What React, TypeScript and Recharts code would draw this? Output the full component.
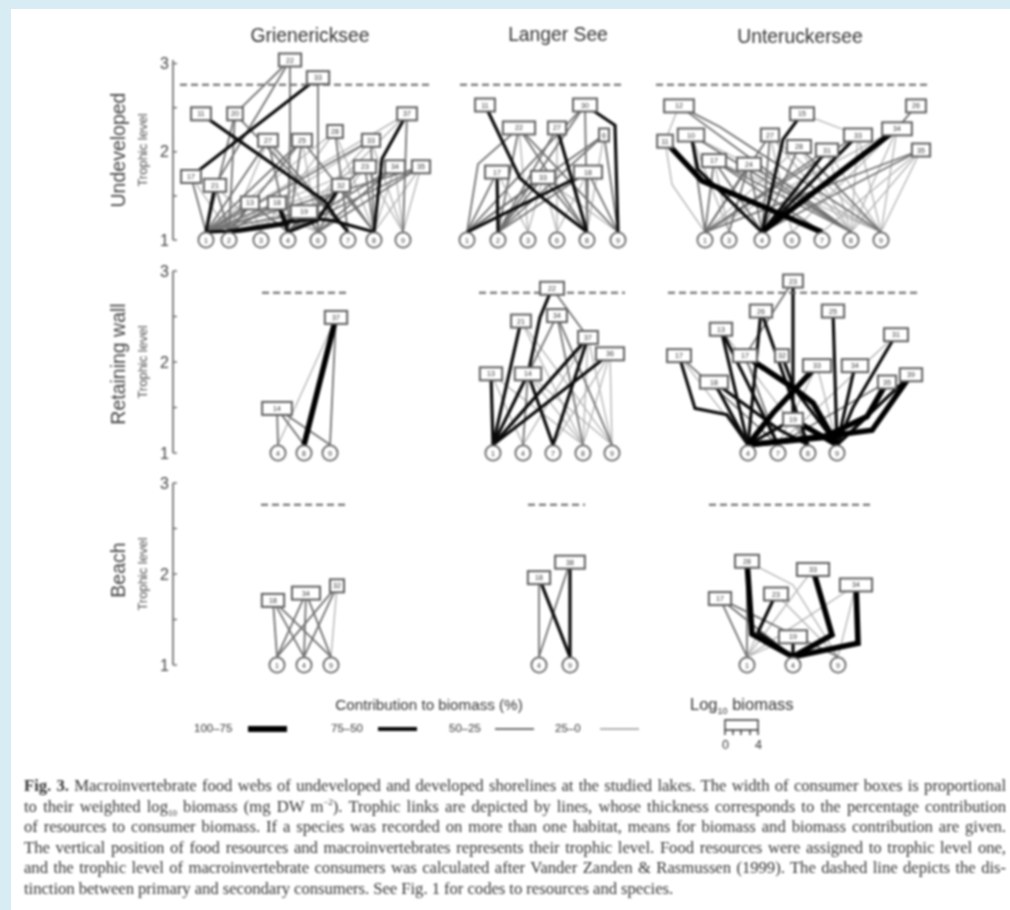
// App.tsx - food web panels, one scatter chart per shoreline row
import React from 'react';
import { Label, Scatter, ScatterChart, XAxis, YAxis } from 'recharts';

type Link = number[]; // from consumer, to resource (or ~consumer), class, then via x, via level pairs

// link classes: 0 = 25-0, 1 = 50-25, 2 = 75-50, 3 = 100-75
const classColors = ['#b0b0b0', '#707070', '#0a0a0a', '#000000'];
const classWidths = [1.3, 1.8, 3.2, 5.6];

const dashLevel = 2.76;
const footLevel = 1.09;
const trophicTicks = [1, 1.5, 2, 2.5, 3];
const biomassPx = 8.25;

// Grienericksee, undeveloped
const guCodes = ['22', '33', '11', '20', '27', '25', '28', '33', '37', '17', '21', '23', '34', '35', '32', '13', '18', '19'];
const guX = [290, 318, 201, 235, 268, 302, 335, 371, 407, 191, 215, 365, 395, 421, 341, 250, 277, 304];
const guLevel = [3.04, 2.84, 2.43, 2.43, 2.13, 2.13, 2.23, 2.13, 2.43, 1.72, 1.62, 1.83, 1.83, 1.83, 1.62, 1.42, 1.42, 1.32];
const guBiomass = [2.7, 2.7, 2.4, 1.9, 2.4, 2.4, 1.9, 2.2, 2.4, 2.4, 2.7, 2.7, 2.4, 2.2, 2.2, 2.2, 2.2, 3.2];
const guResCodes = ['1', '2', '3', '4', '6', '7', '8', '9'];
const guResX = [206, 229, 261, 288, 318, 348, 374, 403];
const guDash = [180, 430];
const guLinks: Link[] = [
  [0, ~3, 1], [0, ~10, 1], [0, 3, 1, 290, 2.2], [1, 4, 1, 318, 2.05], [1, ~9, 2], [2, 5, 2, 325, 1.44, 335, 1.27],
  [3, 0, 1], [3, 1, 1], [3, 5, 1], [4, 0, 1], [4, 1, 0], [4, 3, 1], [4, 4, 0], [4, 5, 1],
  [5, 0, 1], [5, 1, 1], [5, 3, 1], [5, 4, 0], [5, 6, 1], [6, 0, 0], [6, 2, 0], [6, 5, 1], [6, 6, 0],
  [7, 0, 1], [7, 1, 0], [7, 3, 0], [7, 6, 1], [7, 7, 0], [8, 6, 2, 382, 1.92], [8, 7, 1], [8, 0, 0], [8, 3, 0],
  [9, 0, 1], [9, 1, 0], [10, 0, 2], [10, 1, 1], [10, 2, 0], [11, 0, 0], [11, 3, 1], [11, 4, 0], [11, 6, 1], [11, 7, 0],
  [12, 3, 1], [12, 4, 1], [12, 6, 0], [12, 7, 0], [13, 3, 1], [13, 4, 1], [13, 7, 0], [13, 6, 0], [13, 0, 1],
  [14, 3, 1], [14, 4, 1], [14, 0, 0], [14, 6, 1], [15, 0, 1], [15, 1, 1], [15, 3, 1], [15, 2, 0], [15, 4, 0],
  [16, 0, 1], [16, 1, 1], [16, 3, 2], [16, 4, 0], [17, 0, 1], [17, 3, 1], [17, 4, 1], [17, 1, 0],
  [17, 1, 2, 317, 1.24, 287, 1.2], [17, 6, 2, 317, 1.24, 333, 1.22], [17, 0, 2, 287, 1.2, 228, 1.1],
  [16, 1, 2, 287, 1.18, 240, 1.1], [14, 3, 2, 317, 1.22],
];

// Langer See, undeveloped
const luCodes = ['11', '30', '22', '27', '6', '17', '33', '18'];
const luX = [485, 585, 519, 557, 604, 497, 543, 588];
const luLevel = [2.53, 2.53, 2.27, 2.27, 2.19, 1.77, 1.71, 1.77];
const luBiomass = [2.4, 2.9, 3.9, 2.2, 1.2, 2.9, 2.9, 3.4];
const luResCodes = ['1', '2', '3', '6', '8', '9'];
const luResX = [467, 498, 528, 557, 587, 618];
const luDash = [460, 624];
const luLinks: Link[] = [
  [0, 4, 2, 520, 1.7, 540, 1.5], [1, 5, 2, 615, 2.3], [1, 4, 1], [1, 0, 1], [1, 1, 1],
  [2, 0, 1, 478, 1.86], [2, 1, 1], [2, 4, 1], [2, 5, 1], [2, 2, 0], [3, 4, 2], [3, 1, 1], [3, 3, 0],
  [4, 0, 1], [4, 1, 1], [4, 5, 1], [4, 4, 0], [5, 1, 2], [5, 0, 1], [5, 2, 0],
  [6, 0, 1], [6, 1, 1], [6, 3, 0], [6, 4, 1], [6, 5, 0], [6, 2, 0],
  [7, 0, 2], [7, 1, 1], [7, 4, 1], [7, 5, 1], [7, 3, 0],
];

// Unteruckersee, undeveloped
const uuCodes = ['12', '15', '26', '34', '10', '27', '33', '28', '31', '35', '11', '17', '24'];
const uuX = [679, 802, 916, 897, 691, 770, 858, 799, 827, 921, 665, 714, 749];
const uuLevel = [2.52, 2.43, 2.52, 2.26, 2.19, 2.19, 2.19, 2.06, 2.02, 2.02, 2.12, 1.9, 1.86];
const uuBiomass = [3.6, 2.9, 2.4, 3.6, 3.2, 2.2, 3.4, 2.9, 2.7, 2.2, 1.9, 2.9, 2.9];
const uuResCodes = ['1', '3', '4', '6', '7', '8', '9'];
const uuResX = [705, 729, 762, 792, 822, 851, 881];
const uuDash = [656, 930];
const uuLinks: Link[] = [
  [0, 6, 1, 720, 2.28, 777, 1.86], [0, ~10, 0], [0, 5, 1], [10, 0, 0, 672, 1.63], [10, 4, 3, 702, 1.67, 767, 1.36],
  [4, 2, 2, 698, 1.8], [4, 0, 1], [4, 5, 1], [4, 1, 0], [4, 6, 0], [1, 2, 2, 783, 2.14], [1, ~6, 0],
  [3, 2, 3], [3, 0, 0], [3, 5, 0], [3, 6, 0], [3, 3, 0], [6, 2, 2], [6, 0, 1], [6, 5, 0], [6, 6, 0],
  [8, 2, 2], [8, 0, 1], [8, 5, 0], [8, 6, 0], [2, ~3, 1], [9, 2, 1], [9, 0, 1], [9, 6, 0], [9, 5, 0], [9, 4, 0],
  [5, 2, 1], [5, 0, 1], [5, 3, 0], [5, 6, 0], [5, 5, 0], [7, 2, 1], [7, 0, 0], [7, 5, 0], [7, 6, 1],
  [11, 0, 1], [11, 1, 0], [11, 2, 1], [11, 6, 0], [11, 5, 1], [11, 4, 1],
  [12, 0, 1], [12, 1, 1], [12, 2, 1], [12, 5, 1], [12, 6, 0],
];

// Grienericksee, retaining wall
const grCodes = ['37', '14'];
const grX = [336, 277];
const grLevel = [2.49, 1.49];
const grBiomass = [2.7, 3.6];
const grResCodes = ['4', '8', '9'];
const grResX = [278, 304, 330];
const grDash = [262, 347];
const grLinks: Link[] = [[0, 1, 3], [0, 2, 1], [0, 0, 0], [1, 0, 1], [1, 1, 1], [1, 2, 1]];

// Langer See, retaining wall
const lrCodes = ['22', '21', '34', '37', '36', '13', '14'];
const lrX = [552, 521, 557, 588, 610, 491, 528];
const lrLevel = [2.81, 2.45, 2.51, 2.27, 2.09, 1.87, 1.87];
const lrBiomass = [2.9, 2.4, 2.4, 2.4, 3.4, 2.7, 3.2];
const lrResCodes = ['1', '4', '7', '8', '9'];
const lrResX = [493, 523, 553, 583, 612];
const lrDash = [479, 625];
const lrLinks: Link[] = [
  [0, ~6, 2, 540, 2.49], [0, ~3, 1], [1, 0, 2], [1, 3, 0], [1, 4, 0], [2, ~6, 1], [2, 3, 1], [2, 4, 1],
  [3, 0, 2], [3, 2, 2], [3, 1, 0], [3, 3, 0], [3, 4, 0], [4, 0, 2], [4, 2, 0], [4, 4, 0], [4, 3, 0],
  [5, 0, 2], [5, 1, 0], [5, 3, 0], [6, 0, 2], [6, 2, 2], [6, 1, 1], [6, 4, 0], [6, 3, 0],
];

// Unteruckersee, retaining wall
const urCodes = ['23', '26', '25', '13', '31', '17', '17', '32', '33', '34', '35', '39', '18', '19'];
const urX = [793, 761, 833, 721, 896, 679, 745, 782, 817, 855, 887, 911, 714, 793];
const urLevel = [2.89, 2.56, 2.56, 2.36, 2.3, 2.07, 2.07, 2.07, 1.96, 1.96, 1.78, 1.86, 1.78, 1.37];
const urBiomass = [2.4, 2.7, 2.7, 2.7, 2.9, 2.9, 2.9, 1.7, 3.4, 3.2, 2.2, 2.7, 3.4, 2.4];
const urResCodes = ['4', '7', '8', '9'];
const urResX = [748, 778, 808, 837];
const urDash = [668, 918];
const urLinks: Link[] = [
  [0, ~13, 2], [0, ~6, 1], [1, 0, 2], [2, 3, 2], [3, 0, 2], [4, 3, 2, 853, 1.5],
  [5, 0, 2, 695, 1.49, 727, 1.42], [5, 0, 0], [6, 3, 3, 794, 1.71, 813, 1.55], [6, 1, 1], [7, 3, 2, 794, 1.71],
  [8, 0, 3, 773, 1.44], [8, 3, 0], [9, 3, 2], [10, 0, 3, 867, 1.4, 823, 1.17], [11, 0, 3, 872, 1.25, 837, 1.2],
  [12, 2, 2, 780, 1.25], [12, 0, 2], [13, 0, 2], [13, 3, 3], [13, 2, 1], [10, 1, 1], [8, 1, 0], [3, 2, 0], [1, 2, 0], [4, 1, 0],
  [10, 3, 2, 867, 1.4], [11, 3, 2], [3, 1, 2], [1, 2, 2], [5, 1, 1],
];

// Grienericksee, beach
const gbCodes = ['18', '34', '32'];
const gbX = [273, 306, 337];
const gbLevel = [1.71, 1.79, 1.87];
const gbBiomass = [2.7, 3.4, 1.7];
const gbResCodes = ['1', '4', '9'];
const gbResX = [277, 304, 331];
const gbDash = [261, 345];
const gbLinks: Link[] = [[0, 0, 1], [0, 1, 1], [0, 2, 1], [1, 0, 1], [1, 1, 1], [1, 2, 1], [2, 0, 1], [2, 1, 1], [2, 2, 0]];

// Langer See, beach
const lbCodes = ['18', '38'];
const lbX = [539, 570];
const lbLevel = [1.96, 2.13];
const lbBiomass = [2.7, 3.6];
const lbResCodes = ['4', '9'];
const lbResX = [539, 570];
const lbDash = [528, 585];
const lbLinks: Link[] = [[0, 1, 2], [1, 1, 2], [0, 0, 1], [1, 0, 1]];

// Unteruckersee, beach
const ubCodes = ['28', '33', '34', '23', '17', '19'];
const ubX = [747, 813, 856, 776, 720, 793];
const ubLevel = [2.14, 2.05, 1.88, 1.78, 1.73, 1.31];
const ubBiomass = [2.9, 3.9, 3.9, 2.9, 2.7, 3.4];
const ubResCodes = ['1', '4', '9'];
const ubResX = [747, 793, 838];
const ubDash = [709, 873];
const ubLinks: Link[] = [
  [0, 1, 3, 752, 1.34], [0, 2, 0, 793, 1.88], [1, 1, 3, 832, 1.33], [2, 1, 3, 858, 1.24], [3, 1, 2, 758, 1.36],
  [1, 0, 0], [2, 0, 0], [2, 2, 0], [4, 0, 1], [4, 1, 1], [4, 2, 1], [5, 1, 2], [5, 0, 0], [3, 0, 0], [3, 2, 0], [0, 0, 1],
];

const makePanel = (
  codes: string[], x: number[], level: number[], biomass: number[],
  resCodes: string[], resX: number[], dash: number[], links: Link[],
) => ({ codes, x, level, biomass, resCodes, resX, dash, links });

const rows = [
  {
    name: 'Undeveloped',
    top: 60,
    bottom: 240,
    labelY: 150,
    panels: [
      makePanel(guCodes, guX, guLevel, guBiomass, guResCodes, guResX, guDash, guLinks),
      makePanel(luCodes, luX, luLevel, luBiomass, luResCodes, luResX, luDash, luLinks),
      makePanel(uuCodes, uuX, uuLevel, uuBiomass, uuResCodes, uuResX, uuDash, uuLinks),
    ],
  },
  {
    name: 'Retaining wall',
    top: 271,
    bottom: 453,
    labelY: 364,
    panels: [
      makePanel(grCodes, grX, grLevel, grBiomass, grResCodes, grResX, grDash, grLinks),
      makePanel(lrCodes, lrX, lrLevel, lrBiomass, lrResCodes, lrResX, lrDash, lrLinks),
      makePanel(urCodes, urX, urLevel, urBiomass, urResCodes, urResX, urDash, urLinks),
    ],
  },
  {
    name: 'Beach',
    top: 483,
    bottom: 665,
    labelY: 570,
    panels: [
      makePanel(gbCodes, gbX, gbLevel, gbBiomass, gbResCodes, gbResX, gbDash, gbLinks),
      makePanel(lbCodes, lbX, lbLevel, lbBiomass, lbResCodes, lbResX, lbDash, lbLinks),
      makePanel(ubCodes, ubX, ubLevel, ubBiomass, ubResCodes, ubResX, ubDash, ubLinks),
    ],
  },
];

const lakeTitles = [
  { text: 'Grienericksee', x: 310, y: 36 },
  { text: 'Langer See', x: 558, y: 35 },
  { text: 'Unteruckersee', x: 800, y: 37 },
];

const legendItems = [
  { text: '100\u201375', x: 194, lineX: 248, cls: 3 },
  { text: '75\u201350', x: 331, lineX: 378, cls: 2 },
  { text: '50\u201325', x: 449, lineX: 495, cls: 1 },
  { text: '25\u20130', x: 555, lineX: 600, cls: 0 },
];

const captionLines: React.ReactNode[] = [
  <><b>Fig. 3.</b> Macroinvertebrate food webs of undeveloped and developed shorelines at the studied lakes. The width of consumer boxes is proportional</>,
  <>to their weighted log<sub style={{ fontSize: 9, lineHeight: 0 }}>10</sub> biomass (mg DW m<sup style={{ fontSize: 9, lineHeight: 0 }}>−2</sup>). Trophic links are depicted by lines, whose thickness corresponds to the percentage contribution</>,
  <>of resources to consumer biomass. If a species was recorded on more than one habitat, means for biomass and biomass contribution are given.</>,
  <>The vertical position of food resources and macroinvertebrates represents their trophic level. Food resources were assigned to trophic level one,</>,
  <>and the trophic level of macroinvertebrate consumers was calculated after Vander Zanden &amp; Rasmussen (1999). The dashed line depicts the dis-</>,
  <>tinction between primary and secondary consumers. See Fig. 1 for codes to resources and species.</>,
];

const BoxMark = (props: any) => {
  const { cx, cy, payload } = props;
  const w = payload.biomass * biomassPx;
  return (
    <g>
      <rect x={cx - w / 2} y={cy - 6.5} width={w} height={13} fill="#fff" stroke="#5f5f5f" strokeWidth={2} />
      <text x={cx} y={cy + 2.5} textAnchor="middle" fontSize={7} fontFamily="Liberation Sans" fill="#333">
        {payload.code}
      </text>
    </g>
  );
};

const ResourceMark = (props: any) => {
  const { cx, cy, payload } = props;
  return (
    <g>
      <circle cx={cx} cy={cy} r={7.6} fill="#fff" stroke="#666" strokeWidth={1.8} />
      <text x={cx} y={cy + 2.5} textAnchor="middle" fontSize={7} fontFamily="Liberation Sans" fill="#333">
        {payload.code}
      </text>
    </g>
  );
};

const NoMark = () => null;

const TrophicTick = (props: any) => {
  const { x, y, payload } = props;
  const whole = Number.isInteger(payload.value);
  return (
    <g>
      <line x1={x} x2={x + 4} y1={y} y2={y} stroke="#666" strokeWidth={1.4} />
      {whole && (
        <text x={x - 4} y={y + 5.5} textAnchor="end" fontSize={16} fontFamily="Liberation Sans" fill="#444">
          {payload.value}
        </text>
      )}
    </g>
  );
};

// one line series per trophic link, light classes first so dark ones sit on top
const linkSeries = (panel: ReturnType<typeof makePanel>) => {
  const sorted = [...panel.links].sort((a, b) => a[2] - b[2]);
  return sorted.map((link, i) => {
    const [from, to, cls, ...via] = link;
    const pts = [{ x: panel.x[from], y: panel.level[from] }];
    for (let v = 0; v < via.length; v += 2) pts.push({ x: via[v], y: via[v + 1] });
    if (to < 0) pts.push({ x: panel.x[~to], y: panel.level[~to] });
    else pts.push({ x: panel.resX[to], y: footLevel });
    return (
      <Scatter
        key={`link-${i}`}
        data={pts}
        shape={NoMark}
        line={{ stroke: classColors[cls], strokeWidth: classWidths[cls] }}
        isAnimationActive={false}
      />
    );
  });
};

const WebRow = ({ row }: { row: (typeof rows)[number] }) => {
  const marginTop = 40;
  const height = row.bottom - row.top + marginTop + 30;
  const mid = (row.bottom - row.top) / 2;
  return (
    <div style={{ position: 'absolute', left: 0, top: row.top - marginTop }}>
      <ScatterChart width={1010} height={height} margin={{ top: marginTop, bottom: 30, left: 0, right: 0 }}>
        <XAxis type="number" dataKey="x" domain={[173, 1010]} hide />
        <YAxis
          type="number"
          dataKey="y"
          domain={[1, 3]}
          ticks={trophicTicks}
          interval={0}
          width={173}
          tickSize={0}
          tickMargin={0}
          tickLine={false}
          tick={<TrophicTick />}
          axisLine={{ stroke: '#666', strokeWidth: 1.6 }}
        >
          <Label
            value={row.name}
            angle={-90}
            position="insideLeft"
            offset={118}
            dy={row.labelY - row.top - mid}
            textAnchor="middle"
            style={{ fontSize: 19.5, fontFamily: 'Liberation Sans', fill: '#444' }}
          />
          <Label
            value="Trophic level"
            angle={-90}
            position="insideLeft"
            offset={142}
            textAnchor="middle"
            style={{ fontSize: 13, fontFamily: 'Liberation Sans', fill: '#555' }}
          />
        </YAxis>
        {row.panels.flatMap((panel) => linkSeries(panel))}
        {row.panels.map((panel, i) => (
          <Scatter
            key={`dash-${i}`}
            data={panel.dash.map((x) => ({ x, y: dashLevel }))}
            shape={NoMark}
            line={{ stroke: '#666', strokeWidth: 2, strokeDasharray: '7 4' }}
            isAnimationActive={false}
          />
        ))}
        {row.panels.map((panel, i) => (
          <Scatter
            key={`boxes-${i}`}
            data={panel.codes.map((code, j) => ({ x: panel.x[j], y: panel.level[j], code, biomass: panel.biomass[j] }))}
            shape={BoxMark}
            isAnimationActive={false}
          />
        ))}
        {row.panels.map((panel, i) => (
          <Scatter
            key={`res-${i}`}
            data={panel.resCodes.map((code, j) => ({ x: panel.resX[j], y: 1, code }))}
            shape={ResourceMark}
            isAnimationActive={false}
          />
        ))}
      </ScatterChart>
    </div>
  );
};

const sans: React.CSSProperties = { position: 'absolute', fontFamily: 'Liberation Sans', color: '#333', whiteSpace: 'nowrap' };

const App = () => (
  <div style={{ position: 'absolute', left: 0, top: 0, width: 1010, height: 910, background: '#d8ecf3', overflow: 'hidden' }}>
    <div style={{ position: 'absolute', left: 11, top: 9, width: 999, height: 901, background: '#fff' }} />
    <div style={{ position: 'absolute', left: 0, top: 0, width: 1010, height: 910, filter: 'blur(0.9px)' }}>
      {lakeTitles.map((t) => (
        <div key={t.text} style={{ ...sans, left: t.x - 100, width: 200, top: t.y - 11, textAlign: 'center', fontSize: 19.3, lineHeight: '22px' }}>
          {t.text}
        </div>
      ))}
      {rows.map((row) => (
        <WebRow key={row.name} row={row} />
      ))}
      <div style={{ ...sans, left: 279, width: 300, top: 696, textAlign: 'center', fontSize: 15.2 }}>Contribution to biomass (%)</div>
      {legendItems.map((item) => (
        <React.Fragment key={item.text}>
          <div style={{ ...sans, left: item.x, top: 722, fontSize: 11.5 }}>{item.text}</div>
          <div
            style={{
              position: 'absolute',
              left: item.lineX,
              width: 39,
              top: 729 - classWidths[item.cls] / 2,
              height: classWidths[item.cls],
              background: classColors[item.cls],
            }}
          />
        </React.Fragment>
      ))}
      <div style={{ ...sans, left: 690, top: 695, fontSize: 16.5 }}>
        Log<sub style={{ fontSize: 9, lineHeight: 0 }}>10</sub> biomass
      </div>
      <svg style={{ position: 'absolute', left: 720, top: 715, width: 45, height: 24 }}>
        <path d="M5 20V5H38V20M5 15H38M13 15V20M21 15V20M30 15V20" fill="none" stroke="#333" strokeWidth={1.4} />
      </svg>
      <div style={{ ...sans, left: 722, top: 738, fontSize: 12.5 }}>0</div>
      <div style={{ ...sans, left: 755, top: 738, fontSize: 12.5 }}>4</div>
      {captionLines.map((line, i) => (
        <div
          key={i}
          style={{
            position: 'absolute',
            left: 24,
            width: 982,
            top: 777 + i * 20.6,
            fontFamily: 'Liberation Serif',
            fontSize: 16.7,
            letterSpacing: -0.05,
            lineHeight: '17px',
            color: '#333',
            textAlign: 'justify',
            textAlignLast: i < 5 ? 'justify' : 'left',
            whiteSpace: 'nowrap',
          }}
        >
          {line}
        </div>
      ))}
    </div>
  </div>
);

export default App;
